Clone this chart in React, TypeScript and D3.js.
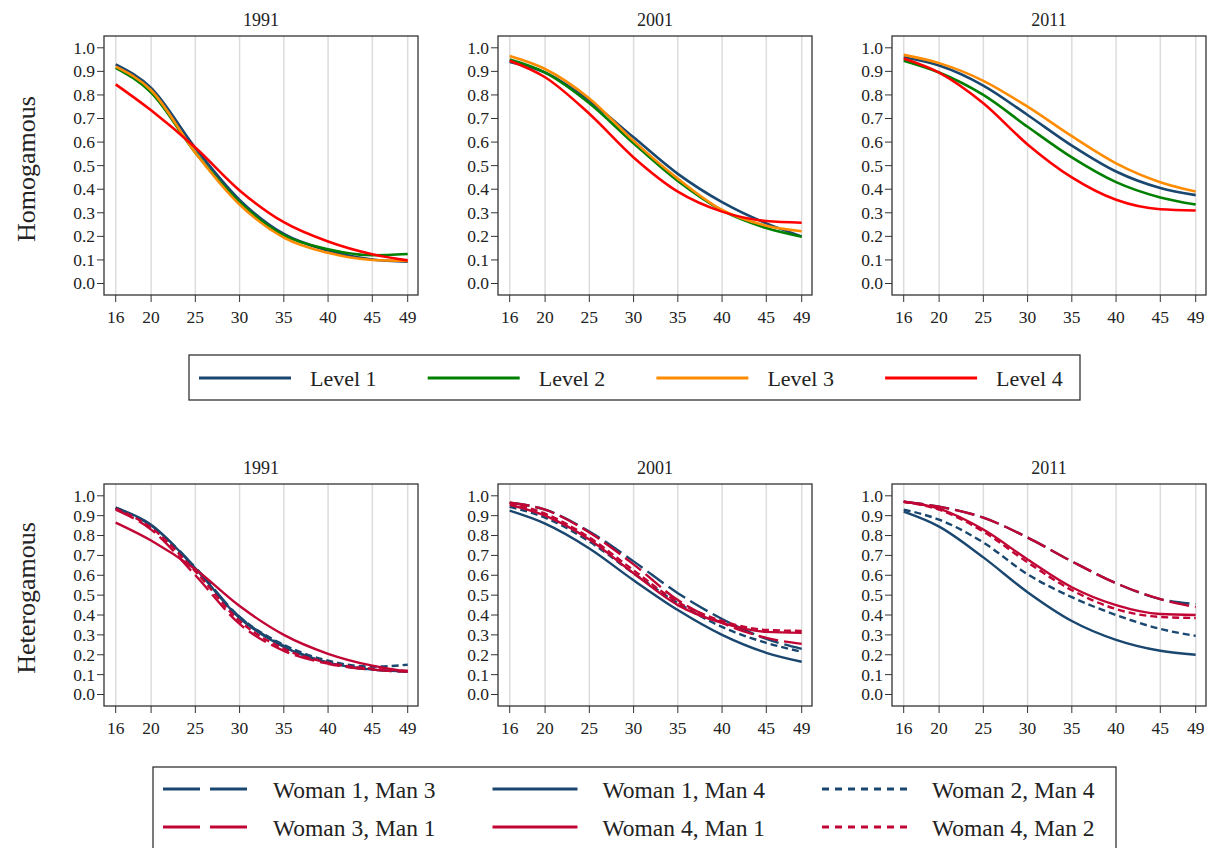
import * as d3 from "d3";

const ages = [16, 20, 25, 30, 35, 40, 45, 49];
const xTicks = [16, 20, 25, 30, 35, 40, 45, 49];
const yTicks = [0, 0.1, 0.2, 0.3, 0.4, 0.5, 0.6, 0.7, 0.8, 0.9, 1.0];
const years = ["1991", "2001", "2011"];

// homogamous: level 1..4
const homL1_1991 = [0.93, 0.83, 0.575, 0.355, 0.21, 0.14, 0.102, 0.093];
const homL2_1991 = [0.915, 0.81, 0.555, 0.345, 0.205, 0.145, 0.12, 0.125];
const homL3_1991 = [0.92, 0.82, 0.555, 0.335, 0.195, 0.13, 0.1, 0.096];
const homL4_1991 = [0.845, 0.735, 0.577, 0.395, 0.26, 0.178, 0.124, 0.098];

const homL1_2001 = [0.94, 0.895, 0.775, 0.62, 0.465, 0.345, 0.255, 0.2];
const homL2_2001 = [0.95, 0.895, 0.765, 0.595, 0.435, 0.31, 0.235, 0.198];
const homL3_2001 = [0.965, 0.91, 0.785, 0.605, 0.445, 0.312, 0.245, 0.222];
const homL4_2001 = [0.945, 0.875, 0.72, 0.535, 0.39, 0.305, 0.265, 0.258];

const homL1_2011 = [0.96, 0.925, 0.84, 0.715, 0.585, 0.475, 0.405, 0.375];
const homL2_2011 = [0.945, 0.895, 0.8, 0.665, 0.535, 0.43, 0.365, 0.335];
const homL3_2011 = [0.97, 0.935, 0.86, 0.75, 0.625, 0.51, 0.43, 0.39];
const homL4_2011 = [0.955, 0.895, 0.765, 0.59, 0.45, 0.355, 0.315, 0.31];

// heterogamous
const w1m3_1991 = [0.94, 0.85, 0.64, 0.39, 0.245, 0.16, 0.125, 0.115];
const w1m4_1991 = [0.94, 0.855, 0.635, 0.385, 0.24, 0.16, 0.125, 0.115];
const w2m4_1991 = [0.935, 0.845, 0.63, 0.39, 0.25, 0.17, 0.14, 0.15];
const w3m1_1991 = [0.93, 0.83, 0.6, 0.355, 0.22, 0.155, 0.125, 0.115];
const w4m1_1991 = [0.865, 0.775, 0.63, 0.445, 0.3, 0.205, 0.145, 0.115];
const w4m2_1991 = [0.935, 0.84, 0.62, 0.37, 0.23, 0.16, 0.13, 0.12];

const w1m3_2001 = [0.965, 0.93, 0.82, 0.67, 0.51, 0.38, 0.28, 0.23];
const w1m4_2001 = [0.925, 0.86, 0.735, 0.575, 0.425, 0.3, 0.21, 0.165];
const w2m4_2001 = [0.945, 0.89, 0.77, 0.61, 0.46, 0.34, 0.26, 0.215];
const w3m1_2001 = [0.965, 0.93, 0.815, 0.655, 0.475, 0.36, 0.285, 0.255];
const w4m1_2001 = [0.955, 0.9, 0.78, 0.61, 0.45, 0.36, 0.315, 0.31];
const w4m2_2001 = [0.965, 0.91, 0.79, 0.625, 0.465, 0.37, 0.325, 0.32];

const w1m3_2011 = [0.97, 0.945, 0.89, 0.79, 0.67, 0.56, 0.48, 0.455];
const w1m4_2011 = [0.92, 0.845, 0.69, 0.515, 0.37, 0.275, 0.22, 0.2];
const w2m4_2011 = [0.93, 0.88, 0.765, 0.605, 0.49, 0.4, 0.33, 0.295];
const w3m1_2011 = [0.97, 0.945, 0.89, 0.79, 0.67, 0.56, 0.48, 0.44];
const w4m1_2011 = [0.97, 0.935, 0.83, 0.68, 0.54, 0.45, 0.405, 0.4];
const w4m2_2011 = [0.97, 0.93, 0.82, 0.665, 0.525, 0.43, 0.39, 0.385];

const levelNames = ["Level 1", "Level 2", "Level 3", "Level 4"];
const levelColors = ["#1a476f", "#008000", "#ff8c00", "#ff0000"];
const homData = [
  [homL1_1991, homL2_1991, homL3_1991, homL4_1991],
  [homL1_2001, homL2_2001, homL3_2001, homL4_2001],
  [homL1_2011, homL2_2011, homL3_2011, homL4_2011],
];

const NAVY = "#1a476f";
const CRAN = "#c10534";
const hetNames = ["Woman 1, Man 3", "Woman 1, Man 4", "Woman 2, Man 4", "Woman 3, Man 1", "Woman 4, Man 1", "Woman 4, Man 2"];
const hetColors = [NAVY, NAVY, NAVY, CRAN, CRAN, CRAN];
const hetDash = ["long", "solid", "short", "long", "solid", "short"];
const hetData = [
  [w1m3_1991, w1m4_1991, w2m4_1991, w3m1_1991, w4m1_1991, w4m2_1991],
  [w1m3_2001, w1m4_2001, w2m4_2001, w3m1_2001, w4m1_2001, w4m2_2001],
  [w1m3_2011, w1m4_2011, w2m4_2011, w3m1_2011, w4m1_2011, w4m2_2011],
];

const FONT = "'Liberation Serif', 'DejaVu Serif', serif";
const panelLefts = [104, 498, 892];
const panelW = 314;

const plotDash: Record<string, string | undefined> = { long: "20,6", short: "7,4", solid: undefined };
const legendDash: Record<string, string | undefined> = { long: "37,10", short: "7,6", solid: undefined };

type Series = { values: number[]; color: string; dash?: string };

function Panel({ left, top, height, title, series, lw }: { left: number; top: number; height: number; title: string; series: Series[]; lw: number }) {
  const x = d3.scaleLinear().domain([16, 49]).range([left + 11.7, left + panelW - 10.3]);
  const y = d3.scaleLinear().domain([0, 1]).range([top + height - 11.5, top + 11.8]);
  const line = d3
    .line<number>()
    .x((_, i) => x(ages[i]))
    .y((d) => y(d))
    .curve(d3.curveMonotoneX);
  const bottom = top + height;
  return (
    <g>
      <text x={left + panelW / 2} y={top - 10} textAnchor="middle" fontSize={18} fontFamily={FONT} fill="#222">
        {title}
      </text>
      {xTicks.map((t) => (
        <line key={"g" + t} x1={x(t)} x2={x(t)} y1={top} y2={bottom} stroke="#dcdcdc" strokeWidth={1.5} />
      ))}
      {series.map((s, i) => (
        <path key={i} d={line(s.values) || ""} fill="none" stroke={s.color} strokeWidth={lw} strokeDasharray={s.dash} />
      ))}
      <rect x={left} y={top} width={panelW} height={height} fill="none" stroke="#333" strokeWidth={1.3} />
      {yTicks.map((t) => (
        <g key={"y" + t}>
          <line x1={left - 7} x2={left} y1={y(t)} y2={y(t)} stroke="#333" strokeWidth={1} />
          <text x={left - 9} y={y(t)} dy="0.34em" textAnchor="end" fontSize={17.5} fontFamily={FONT} fill="#222">
            {t.toFixed(1)}
          </text>
        </g>
      ))}
      {xTicks.map((t) => (
        <g key={"x" + t}>
          <line x1={x(t)} x2={x(t)} y1={bottom} y2={bottom + 7} stroke="#333" strokeWidth={1} />
          <text x={x(t)} y={bottom + 28} textAnchor="middle" fontSize={17.5} fontFamily={FONT} fill="#222">
            {t}
          </text>
        </g>
      ))}
    </g>
  );
}

export default function App() {
  const topTop = 36, topH = 259;
  const botTop = 484, botH = 222;
  return (
    <svg width={1207} height={848} style={{ position: "absolute", left: 0, top: 0, background: "#fff" }}>
      <rect width={1207} height={848} fill="#fff" />
      <text transform={`translate(35,169) rotate(-90)`} textAnchor="middle" fontSize={26} fontFamily={FONT} fill="#222">
        Homogamous
      </text>
      <text transform={`translate(35,598) rotate(-90)`} textAnchor="middle" fontSize={26} fontFamily={FONT} fill="#222">
        Heterogamous
      </text>
      {years.map((yr, p) => (
        <Panel
          key={"h" + yr}
          left={panelLefts[p]}
          top={topTop}
          height={topH}
          title={yr}
          lw={2.6}
          series={homData[p].map((v, i) => ({ values: v, color: levelColors[i] }))}
        />
      ))}
      {years.map((yr, p) => (
        <Panel
          key={"e" + yr}
          left={panelLefts[p]}
          top={botTop}
          height={botH}
          title={yr}
          lw={2.4}
          series={hetData[p].map((v, i) => ({ values: v, color: hetColors[i], dash: plotDash[hetDash[i]] }))}
        />
      ))}
      {/* legend 1 */}
      <rect x={189} y={355} width={891} height={45} fill="none" stroke="#333" strokeWidth={1.3} />
      {levelNames.map((n, i) => {
        const x0 = 199 + i * 228.7;
        return (
          <g key={n}>
            <line x1={x0} x2={x0 + 92} y1={378} y2={378} stroke={levelColors[i]} strokeWidth={3} />
            <text x={x0 + 111} y={386} fontSize={22} fontFamily={FONT} fill="#222">
              {n}
            </text>
          </g>
        );
      })}
      {/* legend 2 */}
      <rect x={153} y={767} width={963} height={100} fill="none" stroke="#333" strokeWidth={1.3} />
      {hetNames.map((n, i) => {
        const col = i % 3;
        const row = Math.floor(i / 3);
        const x0 = 163 + col * 329.5;
        const yy = 789 + row * 38;
        return (
          <g key={n}>
            <line x1={x0} x2={x0 + 85} y1={yy} y2={yy} stroke={hetColors[i]} strokeWidth={3} strokeDasharray={legendDash[hetDash[i]]} />
            <text x={x0 + 110} y={yy + 9} fontSize={23.5} fontFamily={FONT} fill="#222">
              {n}
            </text>
          </g>
        );
      })}
    </svg>
  );
}
